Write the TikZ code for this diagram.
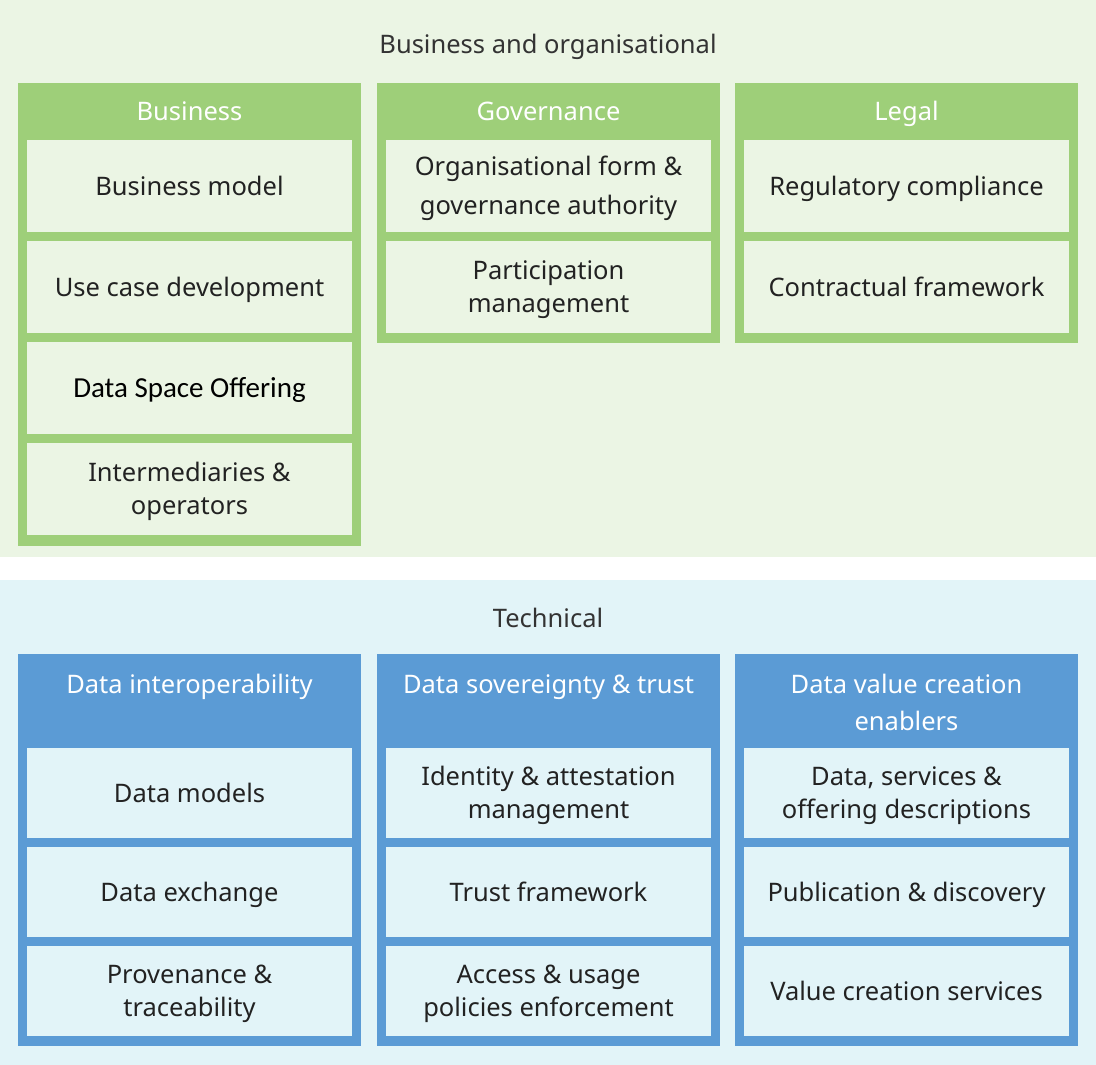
\documentclass[tikz,border=0pt]{standalone}
\usepackage{fontspec}
\setmainfont{Noto Sans}
\newfontfamily\calibrifont{Carlito}
\usepackage{xcolor}
\usepackage{tikz}
\usetikzlibrary{positioning}

\definecolor{orgbg}{RGB}{235,245,228}
\definecolor{orggreen}{RGB}{158,207,121}
\definecolor{techbg}{RGB}{226,244,248}
\definecolor{techblue}{RGB}{91,155,213}
\definecolor{textgray}{RGB}{34,34,34}
\definecolor{titlegray}{RGB}{51,51,51}

\begin{document}
\begin{tikzpicture}[
        x=1pt, y=-1pt,
        node distance=9pt,
        section/.style={
          text=titlegray,
          inner sep=0pt,
          text height=18pt,
          text depth=0pt,
          font=\fontsize{25.5}{30}\selectfont
        },
        column/.style={
          anchor=north west,
          minimum width=343pt,
          inner sep=0pt,
          outer sep=0pt
        },
        orgcol/.style={column, fill=orggreen},
        techcol/.style={column, fill=techblue},
        colhead/.style={
          text=white,
          align=center,
          inner sep=0pt,
          font=\fontsize{25.5}{37}\selectfont
        },
        oneline/.style={text height=18pt, text depth=0pt},
        twolines/.style={text height=51pt, text depth=0pt},
        box/.style={
          minimum width=325pt,
          inner sep=0pt,
          outer sep=0pt,
          align=center,
          text=textgray,
          font=\fontsize{25.5}{33}\selectfont
        },
        orgbox/.style={box, fill=orgbg, minimum height=92pt},
        techbox/.style={box, fill=techbg, minimum height=90pt}
      ]
        \useasboundingbox (0,0) rectangle (1096,1065);
        \fill[white] (0,0) rectangle (1096,1065);
        \fill[orgbg] (0,0) rectangle (1096,557);
        \fill[techbg] (0,580) rectangle (1096,1065);

        \node[section] (orgtitle) at (548,45) {Business and organisational};
        \node[section] (techtitle) at (548,618) {Technical};

        \node[orgcol, minimum height=463pt] (business) at (18,83) {};
        \node[orgcol, minimum height=260pt] (governance) at (377,83) {};
        \node[orgcol, minimum height=260pt] (legal) at (735,83) {};

        \node[colhead, oneline] (businesshead) at ([yshift=-29pt]business.north) {Business};
        \node[colhead, oneline] (governancehead) at ([yshift=-29pt]governance.north) {Governance};
        \node[colhead, oneline] (legalhead) at ([yshift=-29pt]legal.north) {Legal};

        \node[orgbox, oneline, anchor=north] (bmodel) at ([yshift=-57pt]business.north) {Business model};
        \node[orgbox, oneline, below=of bmodel] (usecase) {Use case development};
        \node[orgbox, oneline, below=of usecase] (offering) {\calibrifont\color{black}\fontsize{29}{33}\selectfont Data Space Offering};
        \node[orgbox, twolines, below=of offering] (intermed) {Intermediaries \&\\operators};

        \node[orgbox, twolines, text height=57pt, anchor=north] (orgform) at ([yshift=-57pt]governance.north) {Organisational form \&\\[6pt]governance authority};
        \node[orgbox, twolines, below=of orgform] (particip) {Participation\\management};

        \node[orgbox, oneline, anchor=north] (regcomp) at ([yshift=-57pt]legal.north) {Regulatory compliance};
        \node[orgbox, oneline, below=of regcomp] (contract) {Contractual framework};

        \node[techcol, minimum height=392pt] (dataint) at (18,654) {};
        \node[techcol, minimum height=392pt] (datasov) at (377,654) {};
        \node[techcol, minimum height=392pt] (valuecr) at (735,654) {};

        \node[colhead, oneline] (datainthead) at ([yshift=-30pt]dataint.north) {Data interoperability};
        \node[colhead, oneline] (datasovhead) at ([yshift=-30pt]datasov.north) {Data sovereignty \& trust};
        \node[colhead, text height=55pt, text depth=0pt] (valuecrhead) at ([yshift=-48.5pt]valuecr.north) {Data value creation\\enablers};

        \node[techbox, oneline, anchor=north] (dmodels) at ([yshift=-94pt]dataint.north) {Data models};
        \node[techbox, oneline, below=of dmodels] (dexchange) {Data exchange};
        \node[techbox, twolines, below=of dexchange] (provenance) {Provenance \&\\traceability};

        \node[techbox, twolines, anchor=north] (identity) at ([yshift=-94pt]datasov.north) {Identity \& attestation\\management};
        \node[techbox, oneline, below=of identity] (trustfw) {Trust framework};
        \node[techbox, twolines, below=of trustfw] (access) {Access \& usage\\policies enforcement};

        \node[techbox, twolines, anchor=north] (descr) at ([yshift=-94pt]valuecr.north) {Data, services \&\\offering descriptions};
        \node[techbox, oneline, below=of descr] (publish) {Publication \& discovery};
        \node[techbox, oneline, below=of publish] (valuesrv) {Value creation services};
      \end{tikzpicture}
\end{document}
